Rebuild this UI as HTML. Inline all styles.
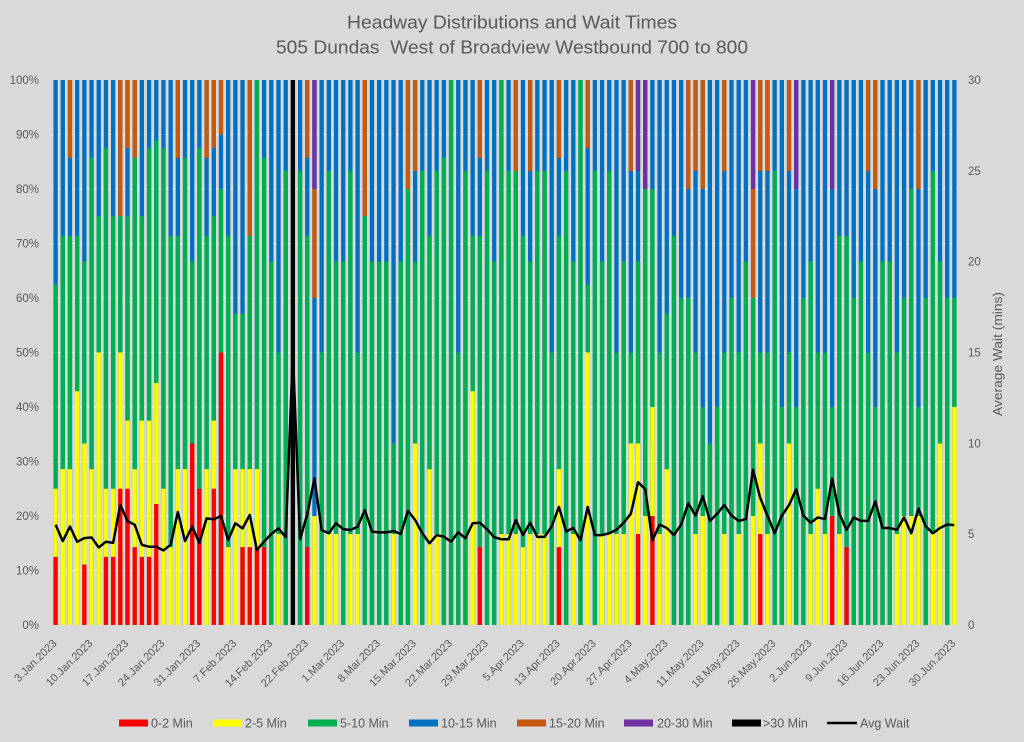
<!DOCTYPE html>
<html><head><meta charset="utf-8"><style>
html,body{margin:0;padding:0;background:#d9d9d9}
svg{display:block}
text{font-family:"Liberation Sans",Arial,sans-serif;fill:#595959}
</style></head><body>
<svg width="1024" height="742" xmlns="http://www.w3.org/2000/svg">
<rect width="1024" height="742" fill="#d9d9d9"/>
<text x="512" y="28.5" font-size="18.5" text-anchor="middle" textLength="330" lengthAdjust="spacingAndGlyphs">Headway Distributions and Wait Times</text>
<text x="512" y="53.5" font-size="18.5" text-anchor="middle" textLength="472" lengthAdjust="spacingAndGlyphs" style="white-space:pre">505 Dundas  West of Broadview Westbound 700 to 800</text>

<g font-size="11.5" text-anchor="end">
<text x="39" y="629">0%</text><text x="39" y="574.5">10%</text><text x="39" y="520">20%</text><text x="39" y="465.5">30%</text><text x="39" y="411">40%</text><text x="39" y="356.5">50%</text><text x="39" y="302">60%</text><text x="39" y="247.5">70%</text><text x="39" y="193">80%</text><text x="39" y="138.5">90%</text><text x="39" y="84">100%</text>
</g>
<g font-size="11.5">
<text x="968" y="629">0</text><text x="968" y="538.2">5</text><text x="968" y="447.3">10</text><text x="968" y="356.5">15</text><text x="968" y="265.7">20</text><text x="968" y="174.8">25</text><text x="968" y="84">30</text>
</g>
<text transform="translate(1002,354) rotate(-90)" font-size="13" text-anchor="middle" textLength="124" lengthAdjust="spacingAndGlyphs">Average Wait (mins)</text>

<svg x="52" y="80" width="906" height="545" viewBox="0 0 126 100" preserveAspectRatio="none" overflow="visible">
<path d="M0 10H126M0 20H126M0 30H126M0 40H126M0 50H126M0 60H126M0 70H126M0 80H126M0 90H126" stroke="#f2f2f2" stroke-width="1" vector-effect="non-scaling-stroke" fill="none"/>
<line x1="0.2" y1="50" x2="126" y2="50" stroke="#0070c0" stroke-width="100" stroke-dasharray="0.6 0.4"/>
<g fill="none" stroke-width="0.6">
<path stroke="#c55a11" d="M2.5 14.3V0M9.5 25V0M10.5 12.5V0M11.5 14.3V0M17.5 14.3V0M21.5 14.3V0M22.5 12.5V0M23.5 10V0M27.5 28.6V0M35.5 14.3V0M36.5 40V20M43.5 25V0M49.5 20V0M50.5 16.7V0M59.5 14.3V0M64.5 16.7V0M66.5 16.7V0M70.5 14.3V0M74.5 12.5V0M80.5 16.7V0M88.5 20V0M89.5 16.7V0M90.5 20V0M93.5 16.7V0M97.5 40V20M98.5 16.7V0M99.5 16.7V0M102.5 16.7V0M113.5 16.7V0M114.5 20V0M120.5 20V0"/>
<path stroke="#7030a0" d="M36.5 20V0M81.5 16.7V0M82.5 20V0M97.5 20V0M103.5 20V0M108.5 20V0"/>
<path stroke="#000000" d="M33.5 100V0"/>
<path stroke="#00b050" d="M.5 100V37.5M1.5 100V28.6M2.5 100V28.6M3.5 100V28.6M4.5 100V33.3M5.5 100V14.3M6.5 100V25M7.5 100V12.5M8.5 100V25M9.5 100V25M10.5 100V25M11.5 100V14.3M12.5 100V25M13.5 100V12.5M14.5 100V11.1M15.5 100V12.5M16.5 100V28.6M17.5 100V28.6M18.5 100V14.3M19.5 100V33.3M20.5 100V12.5M21.5 100V28.6M22.5 100V25M23.5 100V20M24.5 100V28.6M25.5 100V42.9M26.5 100V42.9M27.5 100V28.6M28.5 100V0M29.5 100V14.3M30.5 100V33.3M31.5 100V50M32.5 100V16.7M34.5 100V16.7M35.5 100V28.6M37.5 100V50M38.5 100V16.7M39.5 100V33.3M40.5 100V33.3M41.5 100V16.7M42.5 100V50M43.5 100V25M44.5 100V33.3M45.5 100V33.3M46.5 100V33.3M47.5 100V66.7M48.5 100V33.3M49.5 100V20M50.5 100V33.3M51.5 100V16.7M52.5 100V28.6M53.5 100V16.7M54.5 100V14.3M55.5 100V0M56.5 100V50M57.5 100V16.7M58.5 100V28.6M59.5 100V28.6M60.5 100V16.7M61.5 100V33.3M62.5 100V0M63.5 100V16.7M64.5 100V16.7M65.5 100V28.6M66.5 100V33.3M67.5 100V16.7M68.5 100V16.7M69.5 100V50M70.5 100V28.6M71.5 100V16.7M72.5 100V33.3M73.5 100V0M74.5 100V37.5M75.5 100V16.7M76.5 100V33.3M77.5 100V16.7M78.5 100V50M79.5 100V33.3M80.5 100V50M81.5 100V33.3M82.5 100V20M83.5 100V20M84.5 100V50M85.5 100V42.9M86.5 100V28.6M87.5 100V40M88.5 100V40M89.5 100V50M90.5 100V60M91.5 100V66.7M92.5 100V60M93.5 100V50M94.5 100V40M95.5 100V50M96.5 100V33.3M97.5 100V40M98.5 100V50M99.5 100V50M100.5 100V16.7M101.5 100V60M102.5 100V50M103.5 100V60M104.5 100V40M105.5 100V33.3M106.5 100V50M107.5 100V50M108.5 100V60M109.5 100V28.6M110.5 100V28.6M111.5 100V40M112.5 100V33.3M113.5 100V50M114.5 100V60M115.5 100V33.3M116.5 100V33.3M117.5 100V50M118.5 100V40M119.5 100V20M120.5 100V60M121.5 100V40M122.5 100V16.7M123.5 100V33.3M124.5 100V40M125.5 100V40"/>
<path stroke="#ffff00" d="M.5 100V75M1.5 100V71.4M2.5 100V71.4M3.5 100V57.1M4.5 100V66.7M5.5 100V71.4M6.5 100V50M7.5 100V75M8.5 100V75M9.5 100V50M10.5 100V62.5M11.5 100V71.4M12.5 100V62.5M13.5 100V62.5M14.5 100V55.6M15.5 100V75M16.5 100V85.7M17.5 100V71.4M18.5 100V71.4M21.5 100V71.4M22.5 100V62.5M24.5 100V85.7M25.5 100V71.4M26.5 100V71.4M27.5 100V71.4M28.5 100V71.4M31.5 100V83.3M36.5 100V80M38.5 100V83.3M39.5 100V83.3M41.5 100V83.3M42.5 100V83.3M47.5 100V83.3M50.5 100V66.7M52.5 100V71.4M53.5 100V83.3M58.5 100V57.1M62.5 100V83.3M63.5 100V83.3M64.5 100V83.3M65.5 100V85.7M66.5 100V83.3M67.5 100V83.3M68.5 100V83.3M70.5 100V71.4M72.5 100V83.3M74.5 100V50M76.5 100V83.3M77.5 100V83.3M78.5 100V83.3M79.5 100V83.3M80.5 100V66.7M81.5 100V66.7M82.5 100V80M83.5 100V60M84.5 100V83.3M85.5 100V71.4M89.5 100V83.3M90.5 100V80M93.5 100V83.3M95.5 100V83.3M97.5 100V80M98.5 100V66.7M99.5 100V83.3M102.5 100V66.7M105.5 100V83.3M106.5 100V75M107.5 100V83.3M109.5 100V83.3M117.5 100V83.3M118.5 100V80M119.5 100V80M120.5 100V80M122.5 100V83.3M123.5 100V66.7M125.5 100V60"/>
<path stroke="#ff0000" d="M.5 100V87.5M4.5 100V88.9M7.5 100V87.5M8.5 100V87.5M9.5 100V75M10.5 100V75M11.5 100V85.7M12.5 100V87.5M13.5 100V87.5M14.5 100V77.8M19.5 100V66.7M20.5 100V75M22.5 100V75M23.5 100V50M26.5 100V85.7M27.5 100V85.7M28.5 100V85.7M29.5 100V85.7M35.5 100V85.7M59.5 100V85.7M70.5 100V85.7M81.5 100V83.3M83.5 100V80M98.5 100V83.3M108.5 100V80M110.5 100V85.7"/>
</g>
<g transform="scale(1,3.333333)">
<polyline fill="none" stroke="#000" stroke-width="2.5" stroke-linejoin="round" vector-effect="non-scaling-stroke" points="0.5,24.48 1.5,25.38 2.5,24.58 3.5,25.42 4.5,25.22 5.5,25.18 6.5,25.73 7.5,25.42 8.5,25.48 9.5,23.38 10.5,24.28 11.5,24.48 12.5,25.59 13.5,25.69 14.5,25.69 15.5,25.89 16.5,25.59 17.5,23.78 18.5,25.38 19.5,24.58 20.5,25.48 21.5,24.13 22.5,24.18 23.5,24 24.5,25.32 25.5,24.4 26.5,24.68 27.5,23.94 28.5,25.87 29.5,25.41 30.5,24.99 31.5,24.68 32.5,25.17 33.5,15 34.5,25.28 35.5,23.9 36.5,21.93 37.5,24.77 38.5,24.95 39.5,24.4 40.5,24.72 41.5,24.77 42.5,24.59 43.5,23.67 44.5,24.86 45.5,24.9 46.5,24.9 47.5,24.83 48.5,24.99 49.5,23.71 50.5,24.22 51.5,24.95 52.5,25.5 53.5,25.05 54.5,25.14 55.5,25.41 56.5,24.9 57.5,25.23 58.5,24.4 59.5,24.37 60.5,24.73 61.5,25.17 62.5,25.28 63.5,25.28 64.5,24.22 65.5,25.05 66.5,24.37 67.5,25.15 68.5,25.15 69.5,24.56 70.5,23.5 71.5,24.85 72.5,24.66 73.5,25.34 74.5,23.5 75.5,25.05 76.5,25.05 77.5,24.95 78.5,24.76 79.5,24.37 80.5,23.88 81.5,22.14 82.5,22.52 83.5,25.34 84.5,24.47 85.5,24.66 86.5,25.05 87.5,24.47 88.5,23.3 89.5,23.98 90.5,22.91 91.5,24.27 92.5,23.88 93.5,23.4 94.5,23.98 95.5,24.27 96.5,24.17 97.5,21.46 98.5,23.01 99.5,23.98 100.5,24.95 101.5,23.98 102.5,23.4 103.5,22.52 104.5,23.98 105.5,24.37 106.5,24.08 107.5,24.17 108.5,21.94 109.5,23.88 110.5,24.76 111.5,24.08 112.5,24.27 113.5,24.27 114.5,23.2 115.5,24.66 116.5,24.66 117.5,24.76 118.5,24.08 119.5,24.95 120.5,23.59 121.5,24.56 122.5,24.95 123.5,24.66 124.5,24.47 125.5,24.5"/>
</g>
</svg>

<g font-size="11" text-anchor="end">
<text transform="translate(57.3,644) rotate(-45)">3.Jan.2023</text>
<text transform="translate(93.25,644) rotate(-45)">10.Jan.2023</text>
<text transform="translate(129.2,644) rotate(-45)">17.Jan.2023</text>
<text transform="translate(165.16,644) rotate(-45)">24.Jan.2023</text>
<text transform="translate(201.11,644) rotate(-45)">31.Jan.2023</text>
<text transform="translate(237.06,644) rotate(-45)">7.Feb.2023</text>
<text transform="translate(273.02,644) rotate(-45)">14.Feb.2023</text>
<text transform="translate(308.97,644) rotate(-45)">22.Feb.2023</text>
<text transform="translate(344.92,644) rotate(-45)">1.Mar.2023</text>
<text transform="translate(380.87,644) rotate(-45)">8.Mar.2023</text>
<text transform="translate(416.83,644) rotate(-45)">15.Mar.2023</text>
<text transform="translate(452.78,644) rotate(-45)">22.Mar.2023</text>
<text transform="translate(488.73,644) rotate(-45)">29.Mar.2023</text>
<text transform="translate(524.68,644) rotate(-45)">5.Apr.2023</text>
<text transform="translate(560.64,644) rotate(-45)">13.Apr.2023</text>
<text transform="translate(596.59,644) rotate(-45)">20.Apr.2023</text>
<text transform="translate(632.54,644) rotate(-45)">27.Apr.2023</text>
<text transform="translate(668.49,644) rotate(-45)">4.May.2023</text>
<text transform="translate(704.45,644) rotate(-45)">11.May.2023</text>
<text transform="translate(740.4,644) rotate(-45)">18.May.2023</text>
<text transform="translate(776.35,644) rotate(-45)">26.May.2023</text>
<text transform="translate(812.3,644) rotate(-45)">2.Jun.2023</text>
<text transform="translate(848.26,644) rotate(-45)">9.Jun.2023</text>
<text transform="translate(884.21,644) rotate(-45)">16.Jun.2023</text>
<text transform="translate(920.16,644) rotate(-45)">23.Jun.2023</text>
<text transform="translate(956.11,644) rotate(-45)">30.Jun.2023</text>
</g>

<g font-size="12.5">
<rect x="119" y="719.5" width="29" height="7" fill="#ff0000"/><text x="151" y="727.5">0-2 Min</text>
<rect x="213" y="719.5" width="29" height="7" fill="#ffff00"/><text x="245" y="727.5">2-5 Min</text>
<rect x="308" y="719.5" width="29" height="7" fill="#00b050"/><text x="340" y="727.5">5-10 Min</text>
<rect x="409" y="719.5" width="29" height="7" fill="#0070c0"/><text x="441" y="727.5">10-15 Min</text>
<rect x="517" y="719.5" width="29" height="7" fill="#c55a11"/><text x="549" y="727.5">15-20 Min</text>
<rect x="624" y="719.5" width="29" height="7" fill="#7030a0"/><text x="657" y="727.5">20-30 Min</text>
<rect x="732" y="719.5" width="29" height="7" fill="#000000"/><text x="763" y="727.5">&gt;30 Min</text>
<line x1="827" y1="723" x2="857" y2="723" stroke="#000" stroke-width="2.5"/><text x="860" y="727.5">Avg Wait</text>
</g>
</svg>
</body></html>
